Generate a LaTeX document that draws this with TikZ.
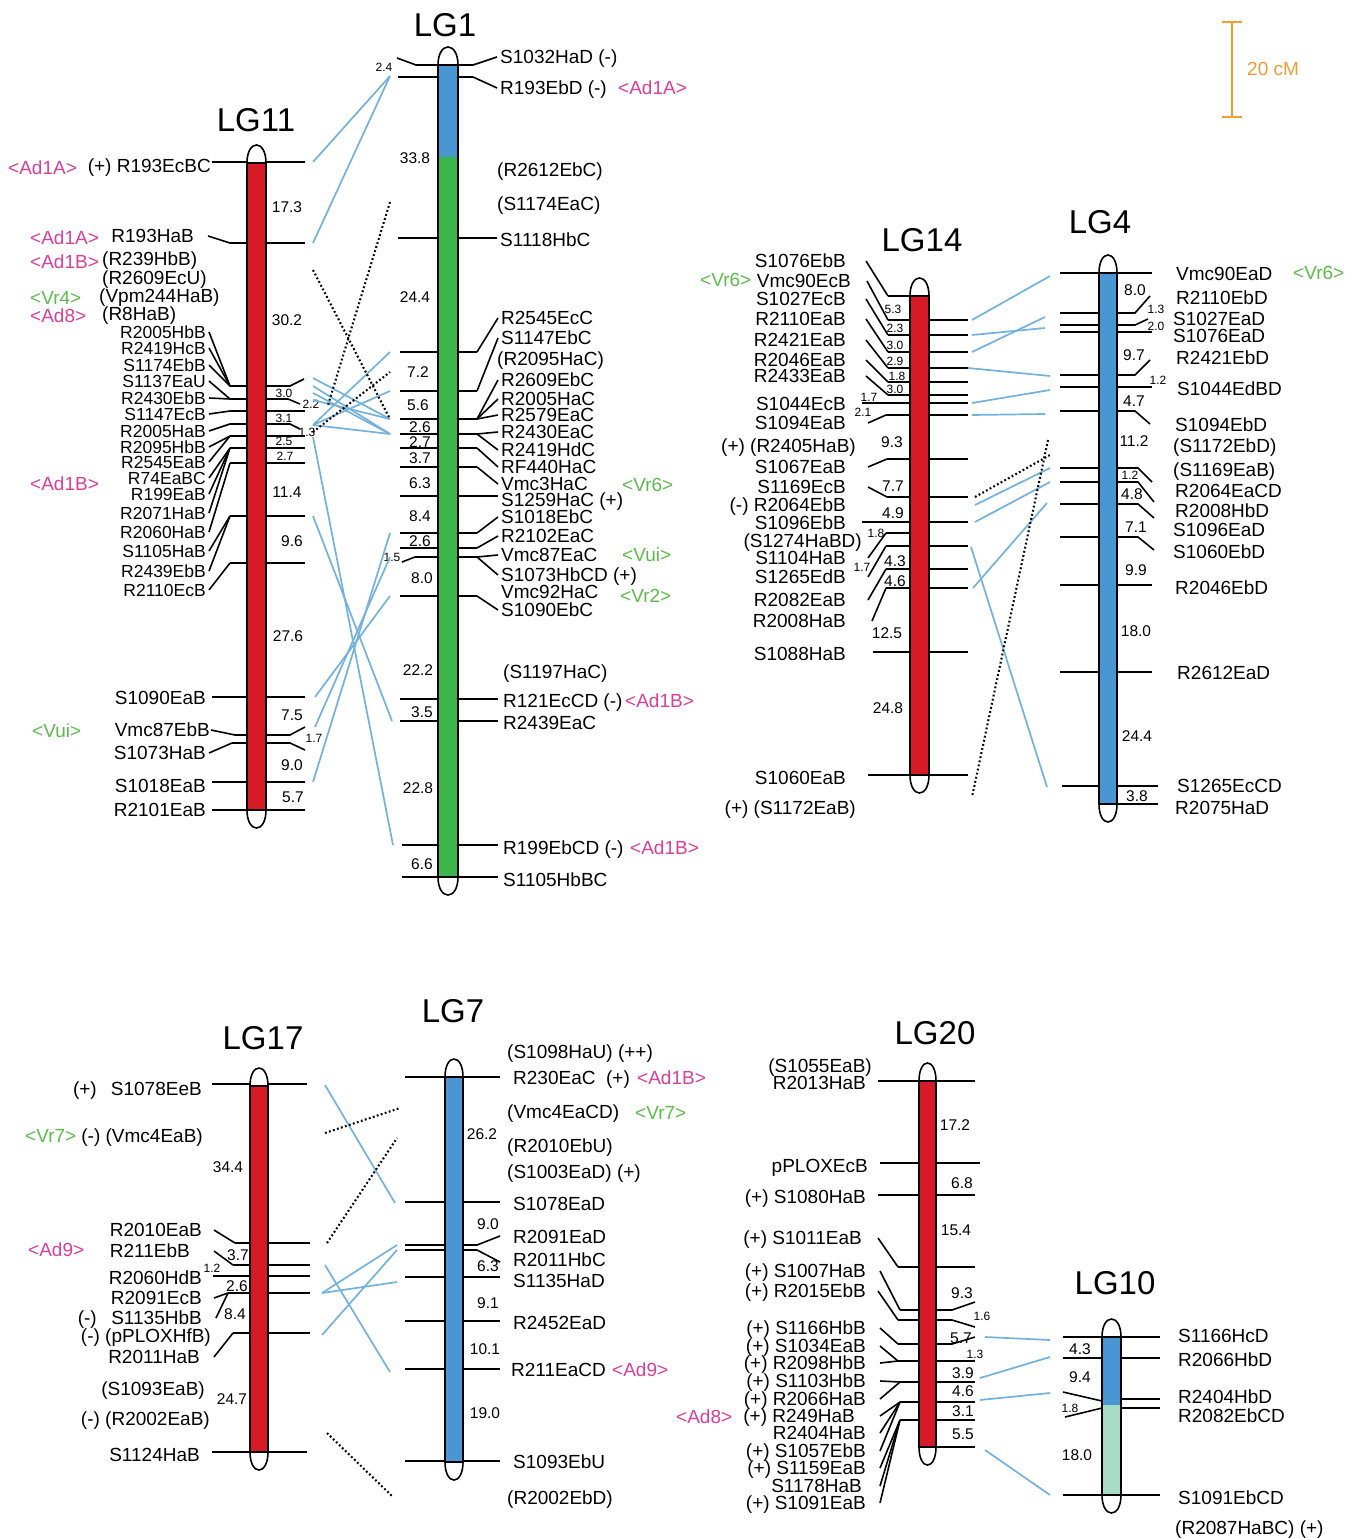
\documentclass[tikz,border=0pt]{standalone}
\usepackage{fontspec}
\setmainfont{Liberation Sans}
\definecolor{redc}{HTML}{D61A26}
\definecolor{greenc}{HTML}{3DB54A}
\definecolor{bluec}{HTML}{4A96D2}
\definecolor{tealc}{HTML}{A6DCC6}
\definecolor{connc}{HTML}{74B2DE}
\definecolor{pinkc}{HTML}{D8409A}
\definecolor{lgreen}{HTML}{5DBB4C}
\definecolor{orangec}{HTML}{F39C32}
\newcounter{nd}
\newcounter{cc}
\tikzset{
 lbl/.style={font=\fontsize{19}{19}\selectfont, inner sep=0pt, text height=13.6pt, text depth=0pt},
 stk/.style={font=\fontsize{17.5}{17.5}\selectfont, inner sep=0pt, text height=12.5pt, text depth=0pt},
 pk/.style={lbl, text=pinkc},
 gn/.style={lbl, text=lgreen},
 num/.style={font=\fontsize{15.5}{15.5}\selectfont, inner sep=0pt, text height=11.1pt, text depth=0pt},
 snum/.style={font=\fontsize{12}{12}\selectfont, inner sep=0pt, text height=8.6pt, text depth=0pt},
 ttl/.style={font=\fontsize{33}{33}\selectfont, inner sep=0pt},
 mk/.style={line width=1.6pt, black},
 conn/.style={line width=1.7pt, connc},
 dotc/.style={line width=2.1pt, black, dash pattern=on 1.8pt off 2.4pt},
 barline/.style={line width=1.6pt, black},
}
\newcommand\lblR[4][lbl]{\stepcounter{nd}\node[#1,anchor=west] (n\arabic{nd}) at (#2,#3) {#4};}
\newcommand\lblL[4][lbl]{\stepcounter{nd}\node[#1,anchor=east] (n\arabic{nd}) at (#2,#3) {#4};}
\newcommand\fanL[6][3pt]{\lblL{#2}{#3}{#4}\draw[mk] ([xshift=#1]n\arabic{nd}.east) -- (#5,#6);}
\newcommand\fanS[5]{\lblL[stk]{#1}{#2}{#3}\draw[mk] ([xshift=3pt]n\arabic{nd}.east) -- (#4,#5);}
\newcommand\fanR[5]{\lblR{#1}{#2}{#3}\draw[mk] (#4,#5) -- ([xshift=-3pt]n\arabic{nd}.west);}
\newcommand\numN[3]{\stepcounter{nd}\node[num] (n\arabic{nd}) at (#1,#2) {#3};}
\newcommand\numS[3]{\stepcounter{nd}\node[snum] (n\arabic{nd}) at (#1,#2) {#3};}
\newcommand\ttlN[3]{\stepcounter{nd}\node[ttl] (n\arabic{nd}) at (#1,#2) {#3};}
\newcommand\conX[5][conn]{\stepcounter{cc}\coordinate (p\arabic{cc}) at (#2,#3);\coordinate (q\arabic{cc}) at (#4,#5);\draw[#1] (p\arabic{cc}) -- (q\arabic{cc});}
\newcommand\chromo[5]{%
 \path[fill=white] (#1,#3) .. controls (#1,#3-24) and (#2,#3-24) .. (#2,#3) -- (#2,#4) .. controls (#2,#4+24) and (#1,#4+24) .. (#1,#4) -- cycle;
 \fill[#5] (#1,#3) rectangle (#2,#4);
 \draw[barline] (#1,#3) .. controls (#1,#3-24) and (#2,#3-24) .. (#2,#3) -- (#2,#4) .. controls (#2,#4+24) and (#1,#4+24) .. (#1,#4) -- cycle;
 \draw[mk] (#1,#3) -- (#2,#3) (#1,#4) -- (#2,#4);}
\newcommand\segm[5]{\fill[#5] (#1,#3) rectangle (#2,#4);\draw[barline] (#1,#3)--(#1,#4) (#2,#3)--(#2,#4);}
\begin{document}
\begin{tikzpicture}[x=1pt,y=-1pt]
\useasboundingbox (0,0) rectangle (1359,1538);
\fill[white] (0,0) rectangle (1359,1538);

% ================= LG11 =================
\ttlN{256}{120}{LG11}
\draw[mk] (212,162)--(305,162);
\draw[mk] (230,243)--(305,243);
\draw[mk] (230,386)--(290,386)--(304,379);
\draw[mk] (230,399)--(288,399)--(300,404);
\draw[mk] (230,411)--(305,411);
\draw[mk] (230,424)--(290,424)--(300,429);
\draw[mk] (230,436)--(305,436);
\draw[mk] (230,448)--(305,448);
\draw[mk] (230,463)--(305,463);
\draw[mk] (230,516)--(305,516);
\draw[mk] (230,563)--(305,563);
\draw[mk] (212,697)--(305,697);
\draw[mk] (235,735)--(290,735)--(305,727);
\draw[mk] (232,743)--(290,743)--(305,750);
\draw[mk] (212,782)--(305,782);
\draw[mk] (212,810)--(305,810);
\chromo{247}{266}{163}{810}{redc}
\lblR[pk]{8}{168}{<Ad1A>}
\lblL{211}{166}{(+) R193EcBC}
\lblR[pk]{30}{238}{<Ad1A>}
\fanL[14pt]{194}{236}{R193HaB}{230}{243}
\lblR[pk]{30}{262}{<Ad1B>}
\lblR{102}{259}{(R239HbB)}
\lblR{102}{278}{(R2609EcU)}
\lblR[gn]{30}{298}{<Vr4>}
\lblR{99}{296}{(Vpm244HaB)}
\lblR[pk]{30}{316}{<Ad8>}
\lblR{102}{314}{(R8HaB)}
\fanS{206}{332}{R2005HbB}{230}{386}
\fanS{206}{348}{R2419HcB}{230}{386}
\fanS{206}{365}{S1174EbB}{230}{386}
\fanS{206}{381}{S1137EaU}{230}{399}
\fanS{206}{398}{R2430EbB}{230}{399}
\fanS{206}{414}{S1147EcB}{230}{411}
\fanS{206}{431}{R2005HaB}{230}{424}
\fanS{206}{447}{R2095HbB}{230}{436}
\fanS{206}{462}{R2545EaB}{230}{436}
\fanS{206}{478}{R74EaBC}{230}{448}
\fanS{206}{494}{R199EaB}{230}{448}
\fanS{206}{513}{R2071HaB}{230}{448}
\fanS{206}{532}{R2060HaB}{230}{463}
\fanS{206}{551}{S1105HaB}{230}{516}
\fanS{206}{571}{R2439EbB}{230}{516}
\fanS{206}{590}{R2110EcB}{230}{563}
\lblR[pk]{30}{484}{<Ad1B>}
\lblL{206}{698}{S1090EaB}
\fanL[1pt]{210}{730}{Vmc87EbB}{235}{735}
\fanL{206}{753}{S1073HaB}{232}{743}
\lblR[gn]{32}{731}{<Vui>}
\lblL{206}{786}{S1018EaB}
\lblL{206}{810}{R2101EaB}
\numN{287}{207}{17.3}
\numN{287}{320}{30.2}
\numS{284}{393}{3.0}
\numS{311}{404}{2.2}
\numS{284}{418}{3.1}
\numS{307}{432}{1.3}
\numS{284}{441}{2.5}
\numS{285}{456}{2.7}
\numN{287}{492}{11.4}
\numN{292}{541}{9.6}
\numN{288}{636}{27.6}
\numN{292}{715}{7.5}
\numS{314}{738}{1.7}
\numN{292}{765}{9.0}
\numN{293}{797}{5.7}

% ================= LG1 =================
\ttlN{445}{25}{LG1}
\draw[mk] (397,58)--(416,65)--(473,65);
\draw[mk] (398,77)--(473,77);
\draw[mk] (398,238)--(497,238);
\draw[mk] (400,352)--(477,352);
\draw[mk] (400,391)--(477,391);
\draw[mk] (400,419)--(477,419);
\draw[mk] (400,434)--(477,434);
\draw[mk] (400,448)--(477,448);
\draw[mk] (400,467)--(477,467);
\draw[mk] (400,496)--(498,496);
\draw[mk] (400,533)--(477,533);
\draw[mk] (400,548)--(477,548);
\draw[mk] (402,562)--(415,557)--(477,557);
\draw[mk] (400,596)--(477,596);
\draw[mk] (400,699)--(498,699);
\draw[mk] (400,721)--(498,721);
\draw[mk] (402,845)--(498,845);
\draw[mk] (402,877)--(498,877);
\chromo{438}{458}{65}{877}{greenc}
\segm{438}{458}{65}{157}{bluec}
\draw[mk] (438,65)--(458,65);
\fanR{500}{57}{S1032HaD (-)}{473}{65}
\fanR{500}{88}{R193EbD (-)}{473}{77}
\lblR[pk]{618}{88}{<Ad1A>}
\lblR{497}{170}{(R2612EbC)}
\lblR{497}{204}{(S1174EaC)}
\lblR{500}{240}{S1118HbC}
\fanR{501}{318}{R2545EcC}{477}{352}
\fanR{501}{338}{S1147EbC}{477}{391}
\lblR{497}{359}{(R2095HaC)}
\fanR{501}{380}{R2609EbC}{477}{419}
\fanR{501}{399}{R2005HaC}{477}{419}
\fanR{501}{415}{R2579EaC}{477}{419}
\fanR{501}{432}{R2430EaC}{477}{434}
\fanR{501}{450}{R2419HdC}{477}{434}
\fanR{501}{467}{RF440HaC}{477}{448}
\fanR{501}{484}{Vmc3HaC}{477}{467}
\lblR[gn]{622}{485}{<Vr6>}
\lblR{501}{500}{S1259HaC (+)}
\fanR{501}{517}{S1018EbC}{477}{533}
\fanR{501}{536}{R2102EaC}{477}{548}
\fanR{501}{555}{Vmc87EaC}{477}{557}
\lblR[gn]{622}{555}{<Vui>}
\fanR{501}{575}{S1073HbCD (+)}{477}{557}
\lblR{501}{592}{Vmc92HaC}
\lblR[gn]{620}{596}{<Vr2>}
\fanR{501}{610}{S1090EbC}{477}{596}
\lblR{503}{672}{(S1197HaC)}
\lblR{503}{701}{R121EcCD (-)}
\lblR[pk]{625}{701}{<Ad1B>}
\lblR{503}{723}{R2439EaC}
\lblR{503}{848}{R199EbCD (-)}
\lblR[pk]{630}{848}{<Ad1B>}
\lblR{503}{880}{S1105HbBC}
\numS{384}{67}{2.4}
\numN{415}{158}{33.8}
\numN{415}{297}{24.4}
\numN{418}{372}{7.2}
\numN{418}{405}{5.6}
\numN{420}{427}{2.6}
\numN{420}{442}{2.7}
\numN{420}{458}{3.7}
\numN{420}{483}{6.3}
\numN{420}{516}{8.4}
\numN{420}{541}{2.6}
\numS{392}{557}{1.5}
\numN{422}{578}{8.0}
\numN{418}{670}{22.2}
\numN{422}{712}{3.5}
\numN{418}{788}{22.8}
\numN{422}{864}{6.6}

% LG11 - LG1 connectors
\conX{313}{162}{390}{76}
\conX{313}{243}{390}{76}
\conX{313}{378}{390}{419}
\conX{313}{386}{390}{434}
\conX{313}{393}{390}{434}
\conX{313}{400}{390}{419}
\conX{313}{425}{390}{352}
\conX{313}{425}{390}{391}
\conX{313}{425}{390}{434}
\conX{313}{437}{393}{845}
\conX{313}{516}{392}{721}
\conX{315}{697}{390}{596}
\conX{315}{727}{390}{557}
\conX{313}{782}{390}{533}
\conX[dotc]{313}{270}{390}{419}
\conX[dotc]{390}{202}{328}{405}
\conX[dotc]{313}{432}{390}{372}

% ================= LG14 =================
\ttlN{922}{240}{LG14}
\draw[mk] (888,296)--(910,296);
\draw[mk] (888,320)--(968,320);
\draw[mk] (888,335)--(968,335);
\draw[mk] (888,352)--(968,352);
\draw[mk] (888,368)--(968,368);
\draw[mk] (888,382)--(968,382);
\draw[mk] (888,395)--(968,395);
\draw[mk] (862,403)--(968,403);
\draw[mk] (886,415)--(968,415);
\draw[mk] (887,459)--(968,459);
\draw[mk] (887,497)--(968,497);
\draw[mk] (862,522)--(968,522);
\draw[mk] (886,533)--(910,533);
\draw[mk] (886,546)--(968,546);
\draw[mk] (886,569)--(968,569);
\draw[mk] (886,588)--(968,588);
\draw[mk] (873,652)--(968,652);
\draw[mk] (868,775)--(968,775);
\chromo{910}{929}{296}{775}{redc}
\fanL[20pt]{846}{261}{S1076EbB}{888}{296}
\lblR[gn]{700}{280}{<Vr6>}
\fanL[16pt]{851}{281}{Vmc90EcB}{888}{320}
\fanL[20pt]{846}{299}{S1027EcB}{888}{335}
\fanL[20pt]{846}{319}{R2110EaB}{888}{352}
\fanL[20pt]{846}{340}{R2421EaB}{888}{368}
\fanL[20pt]{846}{360}{R2046EaB}{888}{382}
\fanL[20pt]{846}{376}{R2433EaB}{888}{395}
\lblL{846}{404}{S1044EcB}
\fanL[22pt]{846}{423}{S1094EaB}{886}{415}
\lblL{856}{446}{(+) (R2405HaB)}
\fanL[22pt]{846}{467}{S1067EaB}{887}{459}
\fanL[22pt]{846}{487}{S1169EcB}{887}{497}
\lblL{846}{505}{(-) R2064EbB}
\lblL{846}{523}{S1096EbB}
\lblL{862}{541}{(S1274HaBD)}
\fanL[22pt]{846}{558}{S1104HaB}{886}{533}
\fanL[22pt]{846}{577}{S1265EdB}{886}{546}
\fanL[22pt]{846}{600}{R2082EaB}{886}{569}
\fanL[26pt]{846}{621}{R2008HaB}{886}{588}
\lblL{846}{654}{S1088HaB}
\lblL{846}{778}{S1060EaB}
\lblL{856}{808}{(+) (S1172EaB)}
\numS{893}{309}{5.3}
\numS{895}{328}{2.3}
\numS{895}{345}{3.0}
\numS{895}{361}{2.9}
\numS{897}{376}{1.8}
\numS{895}{389}{3.0}
\numS{869}{397}{1.7}
\numS{863}{412}{2.1}
\numN{892}{442}{9.3}
\numN{893}{486}{7.7}
\numN{893}{513}{4.9}
\numS{876}{533}{1.8}
\numS{862}{567}{1.7}
\numN{895}{561}{4.3}
\numN{895}{581}{4.6}
\numN{887}{633}{12.5}
\numN{888}{708}{24.8}

% ================= LG4 =================
\ttlN{1100}{222}{LG4}
\draw[mk] (1060,273)--(1152,273);
\draw[mk] (1060,313)--(1135,313)--(1150,296);
\draw[mk] (1060,325)--(1135,325)--(1148,319);
\draw[mk] (1060,332)--(1152,332);
\draw[mk] (1060,375)--(1135,375)--(1150,360);
\draw[mk] (1060,387)--(1152,387);
\draw[mk] (1060,411)--(1135,411)--(1150,424);
\draw[mk] (1060,468)--(1138,468)--(1152,482);
\draw[mk] (1060,482)--(1138,482)--(1154,502);
\draw[mk] (1060,504)--(1138,504)--(1154,518);
\draw[mk] (1060,537)--(1138,537)--(1154,550);
\draw[mk] (1060,585)--(1152,585);
\draw[mk] (1060,672)--(1152,672);
\draw[mk] (1062,786)--(1158,786);
\draw[mk] (1099,804)--(1158,804);
\chromo{1099}{1117}{273}{804}{bluec}
\lblR{1176}{274}{Vmc90EaD}
\lblR[gn]{1293}{273}{<Vr6>}
\lblR{1176}{298}{R2110EbD}
\lblR{1173}{319}{S1027EaD}
\lblR{1173}{336}{S1076EaD}
\lblR{1176}{358}{R2421EbD}
\lblR{1177}{389}{S1044EdBD}
\lblR{1175}{425}{S1094EbD}
\lblR{1173}{446}{(S1172EbD)}
\lblR{1173}{470}{(S1169EaB)}
\lblR{1175}{491}{R2064EaCD}
\lblR{1175}{511}{R2008HbD}
\lblR{1173}{530}{S1096EaD}
\lblR{1173}{552}{S1060EbD}
\lblR{1175}{588}{R2046EbD}
\lblR{1177}{673}{R2612EaD}
\lblR{1177}{786}{S1265EcCD}
\lblR{1175}{808}{R2075HaD}
\numN{1135}{290}{8.0}
\numS{1156}{309}{1.3}
\numS{1156}{326}{2.0}
\numN{1134}{355}{9.7}
\numS{1158}{380}{1.2}
\numN{1134}{401}{4.7}
\numN{1134}{441}{11.2}
\numS{1130}{475}{1.2}
\numN{1132}{494}{4.8}
\numN{1136}{527}{7.1}
\numN{1136}{570}{9.9}
\numN{1136}{631}{18.0}
\numN{1137}{736}{24.4}
\numN{1137}{796}{3.8}

% LG14 - LG4 connectors
\conX{972}{320}{1050}{276}
\conX{972}{335}{1045}{328}
\conX{972}{352}{1045}{317}
\conX{968}{368}{1050}{376}
\conX{972}{403}{1050}{390}
\conX{972}{415}{1045}{414}
\conX{975}{505}{1050}{468}
\conX{975}{522}{1050}{482}
\conX{973}{588}{1047}{503}
\conX{971}{547}{1047}{787}
\conX[dotc]{975}{497}{1050}{455}
\conX[dotc]{1048}{440}{972}{797}

% ================= LG17 =================
\ttlN{263}{1038}{LG17}
\draw[mk] (212,1084)--(307,1084);
\draw[mk] (235,1243)--(310,1243);
\draw[mk] (233,1265)--(310,1265);
\draw[mk] (213,1276)--(310,1276);
\draw[mk] (228,1293)--(310,1293);
\draw[mk] (233,1333)--(310,1333);
\draw[mk] (212,1452)--(307,1452);
\chromo{250}{268}{1086}{1452}{redc}
\lblL{97}{1089}{(+)}
\lblL{202}{1089}{S1078EeB}
\lblR[gn]{25}{1136}{<Vr7>}
\lblL{203}{1136}{(-) (Vmc4EaB)}
\fanL[12pt]{202}{1230}{R2010EaB}{235}{1243}
\lblR[pk]{28}{1250}{<Ad9>}
\fanL[24pt]{190}{1251}{R211EbB}{233}{1265}
\lblL{202}{1278}{R2060HdB}
\fanL[12pt]{202}{1298}{R2091EcB}{228}{1293}
\lblL{97}{1318}{(-)}
\fanL[14pt]{202}{1318}{S1135HbB}{228}{1293}
\lblL{211}{1336}{(-) (pPLOXHfB)}
\fanL[14pt]{200}{1357}{R2011HaB}{233}{1333}
\lblL{205}{1389}{(S1093EaB)}
\lblL{210}{1419}{(-) (R2002EaB)}
\lblL{200}{1455}{S1124HaB}
\numN{228}{1167}{34.4}
\numN{238}{1255}{3.7}
\numS{212}{1268}{1.2}
\numN{237}{1286}{2.6}
\numN{235}{1314}{8.4}
\numN{232}{1399}{24.7}

% ================= LG7 =================
\ttlN{453}{1011}{LG7}
\draw[mk] (405,1077)--(500,1077);
\draw[mk] (405,1202)--(500,1202);
\draw[mk] (405,1245)--(477,1245)--(500,1236);
\draw[mk] (405,1250)--(477,1250)--(500,1262);
\draw[mk] (405,1277)--(500,1277);
\draw[mk] (405,1321)--(500,1321);
\draw[mk] (405,1369)--(500,1369);
\draw[mk] (405,1461)--(500,1461);
\chromo{445}{463}{1077}{1462}{bluec}
\lblR{507}{1052}{(S1098HaU) (++)}
\lblR{513}{1078}{R230EaC\ \ (+)}
\lblR[pk]{637}{1078}{<Ad1B>}
\lblR{507}{1112}{(Vmc4EaCD)}
\lblR[gn]{635}{1113}{<Vr7>}
\lblR{507}{1146}{(R2010EbU)}
\lblR{507}{1172}{(S1003EaD) (+)}
\lblR{513}{1204}{S1078EaD}
\lblR{513}{1237}{R2091EaD}
\lblR{513}{1260}{R2011HbC}
\lblR{513}{1281}{S1135HaD}
\lblR{513}{1323}{R2452EaD}
\lblR{511}{1370}{R211EaCD}
\lblR[pk]{612}{1370}{<Ad9>}
\lblR{513}{1462}{S1093EbU}
\lblR{507}{1498}{(R2002EbD)}
\numN{482}{1134}{26.2}
\numN{488}{1224}{9.0}
\numN{488}{1266}{6.3}
\numN{488}{1303}{9.1}
\numN{485}{1349}{10.1}
\numN{485}{1413}{19.0}

% LG17 - LG7 connectors
\conX{325}{1085}{395}{1203}
\conX[dotc]{325}{1133}{400}{1108}
\conX[dotc]{327}{1243}{397}{1138}
\conX{322}{1293}{397}{1245}
\conX{322}{1293}{397}{1282}
\conX{322}{1335}{397}{1250}
\conX{325}{1265}{390}{1372}
\conX[dotc]{327}{1433}{393}{1497}

% ================= LG20 =================
\ttlN{935}{1033}{LG20}
\draw[mk] (878,1081)--(975,1081);
\draw[mk] (880,1163)--(980,1163);
\draw[mk] (878,1195)--(975,1195);
\draw[mk] (898,1267)--(975,1267);
\draw[mk] (900,1310)--(952,1310)--(975,1302);
\draw[mk] (898,1320)--(952,1320)--(975,1327);
\draw[mk] (898,1344)--(952,1344)--(975,1337);
\draw[mk] (898,1361)--(975,1361);
\draw[mk] (900,1382)--(975,1382);
\draw[mk] (900,1402)--(975,1402);
\draw[mk] (900,1420)--(975,1420);
\draw[mk] (919,1447)--(975,1447);
\chromo{919}{936}{1081}{1447}{redc}
\lblL{872}{1066}{(S1055EaB)}
\lblL{866}{1083}{R2013HaB}
\lblL{868}{1166}{pPLOXEcB}
\lblL{866}{1197}{(+) S1080HaB}
\fanL[16pt]{862}{1238}{(+) S1011EaB}{898}{1267}
\fanL[14pt]{866}{1271}{(+) S1007HaB}{900}{1310}
\fanL[12pt]{866}{1291}{(+) R2015EbB}{898}{1320}
\fanL[14pt]{866}{1328}{(+) S1166HbB}{898}{1344}
\fanL[14pt]{866}{1346}{(+) S1034EaB}{898}{1361}
\fanL[14pt]{866}{1363}{(+) R2098HbB}{898}{1361}
\fanL[14pt]{866}{1381}{(+) S1103HbB}{900}{1382}
\fanL[14pt]{866}{1399}{(+) R2066HaB}{900}{1382}
\lblR[pk]{676}{1417}{<Ad8>}
\fanL[25pt]{855}{1416}{(+) R249HaB}{900}{1402}
\fanL[14pt]{866}{1433}{R2404HaB}{900}{1402}
\fanL[14pt]{866}{1451}{(+) S1057EbB}{900}{1402}
\fanL[14pt]{866}{1468}{(+) S1159EaB}{900}{1420}
\fanL[18pt]{862}{1486}{S1178HaB}{900}{1420}
\fanL[14pt]{866}{1503}{(+) S1091EaB}{900}{1420}
\numN{955}{1125}{17.2}
\numN{962}{1183}{6.8}
\numN{956}{1230}{15.4}
\numN{962}{1293}{9.3}
\numS{982}{1316}{1.6}
\numN{961}{1338}{5.7}
\numS{975}{1354}{1.3}
\numN{963}{1373}{3.9}
\numN{963}{1391}{4.6}
\numN{963}{1411}{3.1}
\numN{963}{1434}{5.5}

% ================= LG10 =================
\ttlN{1115}{1283}{LG10}
\draw[mk] (1063,1337)--(1160,1337);
\draw[mk] (1063,1358)--(1160,1358);
\draw[mk] (1063,1392)--(1102,1401);
\draw[mk] (1121,1399)--(1160,1399);
\draw[mk] (1065,1417)--(1102,1408);
\draw[mk] (1121,1408)--(1160,1408);
\draw[mk] (1063,1495)--(1160,1495);
\chromo{1102}{1121}{1337}{1495}{tealc}
\segm{1102}{1121}{1337}{1405}{bluec}
\draw[mk] (1102,1337)--(1121,1337);
\lblR{1178}{1336}{S1166HcD}
\lblR{1178}{1360}{R2066HbD}
\lblR{1178}{1397}{R2404HbD}
\lblR{1178}{1416}{R2082EbCD}
\lblR{1178}{1498}{S1091EbCD}
\lblR{1175}{1528}{(R2087HaBC) (+)}
\numN{1080}{1349}{4.3}
\numN{1080}{1377}{9.4}
\numS{1070}{1408}{1.8}
\numN{1077}{1455}{18.0}

% LG20 - LG10 connectors
\conX{985}{1337}{1050}{1340}
\conX{980}{1378}{1050}{1357}
\conX{980}{1400}{1050}{1393}
\conX{985}{1450}{1050}{1495}

% ================= scale bar =================
\draw[orangec, line width=1.6pt] (1232,22)--(1232,117) (1222,22)--(1242,22) (1222,117)--(1242,117);
\lblR[lbl,text=orangec]{1247}{69}{20 cM}
\end{tikzpicture}
\end{document}
